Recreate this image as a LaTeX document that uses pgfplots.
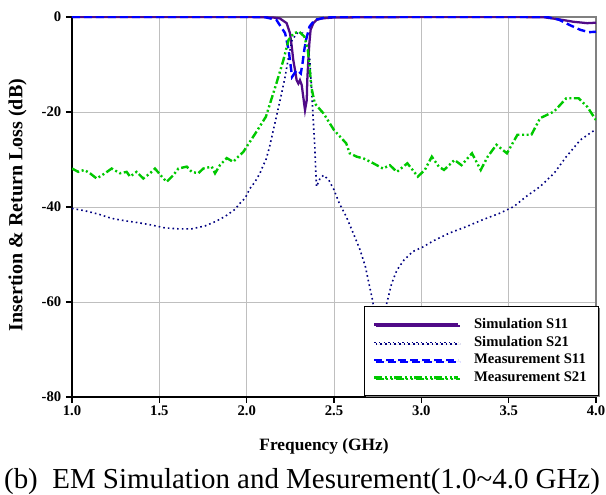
\documentclass[border=0pt]{standalone}
\usepackage{fontspec}
\setmainfont{Liberation Serif}
\usepackage{pgfplots}
\pgfplotsset{compat=1.18}
\usetikzlibrary{shadows}
\definecolor{simsoneone}{RGB}{80,10,135}
\definecolor{simstwoone}{RGB}{0,0,128}
\definecolor{measoneone}{RGB}{0,0,255}
\definecolor{meastwoone}{RGB}{0,200,0}
\begin{document}
\begin{tikzpicture}
\useasboundingbox (-54pt,-73.5pt) rectangle (400.5pt,297.75pt);
\begin{axis}[
  at={(0,0)}, anchor=south west,
  width=393pt, height=285pt, scale only axis,
  clip mode=individual,
  xmin=1, xmax=4, ymin=-80, ymax=0,
  axis x line*=bottom, axis y line*=left,
  axis line style={-, black, line width=0.8pt},
  xtick={1,1.5,2,2.5,3,3.5,4},
  xticklabels={1.0,1.5,2.0,2.5,3.0,3.5,4.0},
  ytick={-80,-60,-40,-20,0},
  yticklabels={-80,-60,-40,-20,0},
  tick align=outside, major tick length=4.5pt,
  tick style={black, line width=0.8pt},
  ticklabel style={font=\bfseries\fontsize{11}{13}\selectfont},
  xticklabel style={yshift=1.2pt},
  grid=major, major grid style={color=black!25, line width=0.7pt},
  xlabel={Frequency (GHz)},
  ylabel={Insertion \& Return Loss (dB)},
  every axis x label/.style={at={(axis description cs:0.481,-0.131)}, anchor=center, font=\bfseries\fontsize{13}{15}\selectfont},
  every axis y label/.style={at={(axis description cs:-0.104,0.505)}, anchor=center, rotate=90, font=\bfseries\fontsize{15}{17}\selectfont},
  legend cell align=left,
  legend image code/.code={\draw[#1] (0pt,0pt) -- (63pt,0pt);},
  legend style={at={(axis description cs:0.557,0.2395)}, anchor=north west,
    draw=black, line width=0.7pt, fill=white,
    drop shadow={shadow xshift=1.2pt, shadow yshift=-1.2pt, fill=black!50, opacity=1},
    font=\bfseries\fontsize{11}{13}\selectfont,
    inner xsep=6.5pt, inner ysep=7pt, row sep=0.3pt,
    /tikz/every odd column/.append style={column sep=9pt}},
]
\draw[black!50, line width=1.2pt] (rel axis cs:0,1) -- (rel axis cs:1,1) -- (rel axis cs:1,0);

% Simulation S11
\addplot[simsoneone, line width=1.7pt] table {
1.00 0
1.50 0
2.00 0
2.15 -0.1
2.19 -0.3
2.229 -1.3
2.248 -3.4
2.258 -6.2
2.267 -9.1
2.277 -11.2
2.286 -13.3
2.296 -14.0
2.305 -13.3
2.315 -14.3
2.324 -16.8
2.334 -19.6
2.344 -17.5
2.347 -13.3
2.353 -9.1
2.359 -5.5
2.366 -2.7
2.382 -1.3
2.401 -0.6
2.43 -0.3
2.50 -0.1
3.00 0
3.50 0
3.70 -0.05
3.79 -0.5
3.87 -1.0
3.95 -1.3
4.00 -1.2
};
\addlegendentry{Simulation S11}

% Simulation S21
\addplot[simstwoone, line width=1.2pt, dash pattern=on 1.2pt off 2.3pt] table {
1.000 -40.3
1.074 -40.8
1.151 -41.5
1.227 -42.4
1.303 -42.9
1.380 -43.3
1.456 -43.8
1.532 -44.4
1.609 -44.6
1.685 -44.6
1.761 -44.0
1.819 -43.1
1.876 -42.0
1.933 -40.5
1.962 -39.2
1.990 -38.2
2.019 -36.1
2.048 -34.7
2.076 -32.9
2.095 -31.2
2.11 -30.1
2.13 -27.5
2.17 -21.0
2.20 -16.1
2.22 -12.6
2.24 -8.4
2.26 -4.8
2.29 -3.4
2.32 -3.4
2.34 -4.8
2.36 -8.4
2.37 -14.0
2.38 -21.0
2.39 -27.3
2.395 -32.0
2.40 -35.7
2.42 -34.0
2.44 -33.3
2.47 -34.3
2.50 -36.4
2.53 -39.2
2.57 -42.0
2.61 -45.5
2.65 -49.1
2.68 -52.6
2.70 -56.1
2.72 -59.5
2.74 -64.0
2.76 -68.0
2.78 -64.0
2.80 -60.6
2.83 -56.1
2.86 -53.3
2.90 -51.2
2.95 -49.4
3.01 -48.4
3.07 -47.1
3.16 -45.5
3.26 -44.1
3.35 -42.7
3.45 -41.3
3.53 -39.9
3.60 -37.8
3.68 -35.7
3.76 -32.9
3.83 -29.4
3.91 -25.9
3.98 -24.1
4.00 -23.8
};
\addlegendentry{Simulation S21}

% Measurement S11
\addplot[measoneone, line width=1.8pt, dash pattern=on 6pt off 3pt] table {
1.00 0
1.50 0
2.00 0
2.10 0
2.17 -0.6
2.22 -3.4
2.24 -6.9
2.25 -9.7
2.26 -12.6
2.28 -11.5
2.29 -11.2
2.31 -11.9
2.32 -9.7
2.33 -6.9
2.34 -4.8
2.36 -2.0
2.39 -0.6
2.44 -0.2
2.50 0
3.00 0
3.50 0
3.72 0
3.79 -0.6
3.85 -1.7
3.91 -2.7
3.96 -3.2
4.00 -3.1
};
\addlegendentry{Measurement S11}

% Measurement S21
\addplot[meastwoone, line width=1.8pt, dash pattern=on 6pt off 2pt on 1.5pt off 2pt on 1.5pt off 2pt] table {
1.000 -31.9
1.036 -32.6
1.070 -32.2
1.103 -32.9
1.141 -34.0
1.189 -32.9
1.227 -31.9
1.275 -32.9
1.313 -32.6
1.332 -33.6
1.370 -32.6
1.408 -34.0
1.447 -32.9
1.475 -31.9
1.514 -33.6
1.542 -34.7
1.580 -33.3
1.609 -31.9
1.657 -31.5
1.685 -32.6
1.723 -32.9
1.752 -31.9
1.800 -31.5
1.819 -32.9
1.847 -31.2
1.886 -29.7
1.923 -30.5
1.952 -29.4
1.981 -28.4
2.00 -27.3
2.05 -24.5
2.11 -21.0
2.17 -14.0
2.21 -9.1
2.24 -4.8
2.27 -3.4
2.30 -3.1
2.33 -4.1
2.35 -6.9
2.36 -10.5
2.37 -14.7
2.39 -18.2
2.44 -20.3
2.50 -23.8
2.57 -26.6
2.59 -28.7
2.63 -29.4
2.67 -29.8
2.71 -30.5
2.78 -31.9
2.82 -31.2
2.86 -32.6
2.92 -30.8
2.98 -33.6
3.02 -32.2
3.06 -29.4
3.10 -31.5
3.13 -32.2
3.19 -30.1
3.23 -31.2
3.29 -28.7
3.34 -32.2
3.38 -29.4
3.43 -26.9
3.49 -28.7
3.55 -24.8
3.63 -24.8
3.68 -21.3
3.76 -19.9
3.83 -17.1
3.90 -17.1
3.95 -18.9
4.00 -21.7
};
\addlegendentry{Measurement S21}

\node[font=\fontsize{21.7}{24}\selectfont, anchor=center] at (axis description cs:0.439,-0.222)
  {(b)\ \ EM Simulation and Mesurement(1.0\textasciitilde 4.0 GHz)};
\end{axis}
\end{tikzpicture}
\end{document}
